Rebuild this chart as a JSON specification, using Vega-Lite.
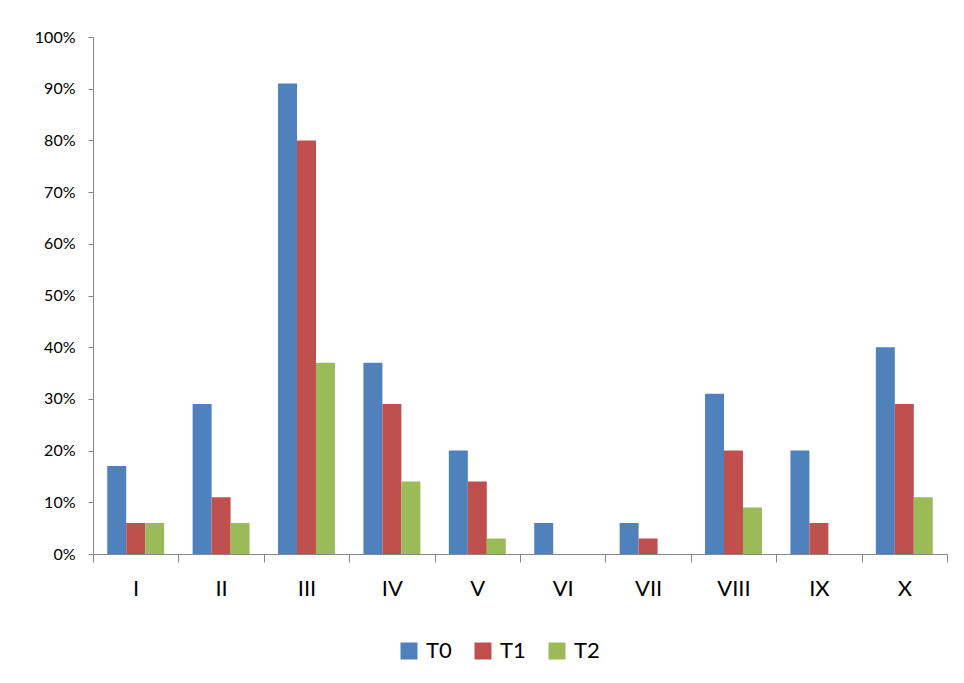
{
  "$schema": "https://vega.github.io/schema/vega-lite/v6.json",
  "autosize": "none",
  "width": 854,
  "height": 517,
  "padding": {"left": 93, "top": 37, "right": 17, "bottom": 129},
  "background": "white",
  "data": {
    "values": [
      {"group": "I", "series": "T0", "share": 0.17},
      {"group": "I", "series": "T1", "share": 0.06},
      {"group": "I", "series": "T2", "share": 0.06},
      {"group": "II", "series": "T0", "share": 0.29},
      {"group": "II", "series": "T1", "share": 0.11},
      {"group": "II", "series": "T2", "share": 0.06},
      {"group": "III", "series": "T0", "share": 0.91},
      {"group": "III", "series": "T1", "share": 0.80},
      {"group": "III", "series": "T2", "share": 0.37},
      {"group": "IV", "series": "T0", "share": 0.37},
      {"group": "IV", "series": "T1", "share": 0.29},
      {"group": "IV", "series": "T2", "share": 0.14},
      {"group": "V", "series": "T0", "share": 0.20},
      {"group": "V", "series": "T1", "share": 0.14},
      {"group": "V", "series": "T2", "share": 0.03},
      {"group": "VI", "series": "T0", "share": 0.06},
      {"group": "VI", "series": "T1", "share": 0.0},
      {"group": "VI", "series": "T2", "share": 0.0},
      {"group": "VII", "series": "T0", "share": 0.06},
      {"group": "VII", "series": "T1", "share": 0.03},
      {"group": "VII", "series": "T2", "share": 0.0},
      {"group": "VIII", "series": "T0", "share": 0.31},
      {"group": "VIII", "series": "T1", "share": 0.20},
      {"group": "VIII", "series": "T2", "share": 0.09},
      {"group": "IX", "series": "T0", "share": 0.20},
      {"group": "IX", "series": "T1", "share": 0.06},
      {"group": "IX", "series": "T2", "share": 0.0},
      {"group": "X", "series": "T0", "share": 0.40},
      {"group": "X", "series": "T1", "share": 0.29},
      {"group": "X", "series": "T2", "share": 0.11}
    ]
  },
  "mark": {"type": "bar"},
  "encoding": {
    "x": {
      "field": "group",
      "type": "nominal",
      "sort": null,
      "title": null,
      "scale": {"paddingInner": 0, "paddingOuter": 0},
      "axis": {
        "tickBand": "extent",
        "tickSize": 8,
        "labelAngle": 0,
        "labelFontSize": 22,
        "labelPadding": 16,
        "labelColor": "#000000"
      }
    },
    "xOffset": {
      "field": "series",
      "type": "nominal",
      "sort": ["T0", "T1", "T2"],
      "scale": {"paddingInner": 0, "paddingOuter": 0.75}
    },
    "y": {
      "field": "share",
      "type": "quantitative",
      "title": null,
      "scale": {"domain": [0, 1], "nice": false},
      "axis": {
        "values": [0, 0.1, 0.2, 0.3, 0.4, 0.5, 0.6, 0.7, 0.8, 0.9, 1],
        "format": ".0%",
        "tickSize": 5,
        "labelFontSize": 16,
        "labelPadding": 13,
        "labelColor": "#000000",
        "grid": false
      }
    },
    "color": {
      "field": "series",
      "type": "nominal",
      "title": null,
      "scale": {"domain": ["T0", "T1", "T2"], "range": ["#4F81BD", "#C0504D", "#9BBB59"]},
      "legend": {
        "orient": "none",
        "direction": "horizontal",
        "legendX": 305,
        "legendY": 603,
        "symbolType": "square",
        "symbolSize": 289,
        "symbolStrokeWidth": 0,
        "labelFontSize": 22,
        "labelOffset": 6,
        "columnPadding": 20,
        "labelColor": "#000000"
      }
    }
  },
  "config": {
    "font": "Lato",
    "view": {"stroke": null},
    "axis": {
      "domainColor": "#868686",
      "tickColor": "#868686",
      "domainWidth": 1,
      "tickWidth": 1,
      "labelFont": "Lato"
    },
    "legend": {"labelFont": "Lato"}
  }
}
